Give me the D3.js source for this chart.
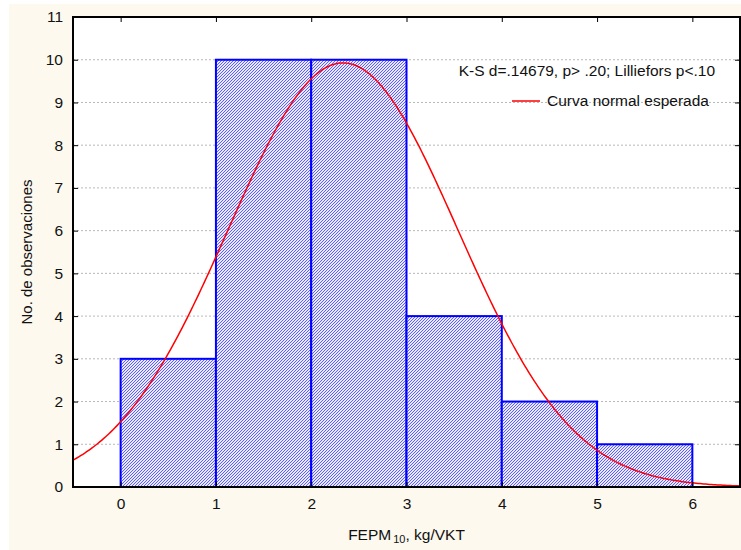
<!DOCTYPE html>
<html>
<head>
<meta charset="utf-8">
<script src="https://cdn.jsdelivr.net/npm/d3@7"></script>
<style>
  body { margin: 0; background: #fff; }
  text { font-family: "Liberation Sans", Arial, sans-serif; fill: #111; }
</style>
</head>
<body>
<svg id="chart" width="741" height="550"></svg>
<script>
// ---- data ----
const binStarts = [0, 1, 2, 3, 4, 5];
const binCounts = [3, 10, 10, 4, 2, 1];
const binWidth = 1;
const xTicks = [0, 1, 2, 3, 4, 5, 6];
const yTicks = [0, 1, 2, 3, 4, 5, 6, 7, 8, 9, 10, 11];
const ksText = 'K-S d=.14679, p> .20; Lilliefors p<.10';
const legendLabel = 'Curva normal esperada';

const W = 741, H = 550;
const plot = { left: 73, right: 740, top: 17, bottom: 487 };
const FONT = '"Liberation Sans", Arial, sans-serif';

const svg = d3.select('#chart');

// cream page background (leaves a thin white strip on the top/left)
svg.append('rect').attr('x', 9).attr('y', 4).attr('width', W - 9).attr('height', H - 4)
   .attr('fill', '#fdf9ee');
svg.append('rect').attr('x', plot.left).attr('y', plot.top)
   .attr('width', plot.right - plot.left).attr('height', plot.bottom - plot.top)
   .attr('fill', '#fff');

const x = d3.scaleLinear().domain([-0.5, 6.5]).range([plot.left, plot.right]);
const y = d3.scaleLinear().domain([0, 11]).range([plot.bottom, plot.top]);

// fine pixel hatch (///) for bars
const defs = svg.append('defs');
const pat = defs.append('pattern').attr('id', 'hatch')
    .attr('patternUnits', 'userSpaceOnUse').attr('width', 3).attr('height', 3)
    .attr('shape-rendering', 'crispEdges');
pat.append('rect').attr('width', 3).attr('height', 3).attr('fill', '#eaeaff');
[[0, 2], [1, 1], [2, 0]].forEach(([px, py]) => {
  pat.append('rect').attr('x', px).attr('y', py).attr('width', 1).attr('height', 1)
     .attr('fill', '#5c5cff');
});
defs.append('clipPath').attr('id', 'clip').append('rect')
   .attr('x', plot.left).attr('y', plot.top)
   .attr('width', plot.right - plot.left).attr('height', plot.bottom - plot.top);

// dotted horizontal grid
svg.append('g').selectAll('line')
   .data(yTicks.filter(t => t > 0 && t < 11))
   .join('line')
   .attr('x1', plot.left).attr('x2', plot.right)
   .attr('y1', d => y(d)).attr('y2', d => y(d))
   .attr('stroke', '#b8b8b8').attr('stroke-width', 1).attr('stroke-dasharray', '2,2');

// bars
svg.append('g').selectAll('rect')
   .data(binStarts.map((s, i) => ({ x0: s, x1: s + binWidth, n: binCounts[i] })))
   .join('rect')
   .attr('x', d => x(d.x0)).attr('y', d => y(d.n))
   .attr('width', d => x(d.x1) - x(d.x0)).attr('height', d => y(0) - y(d.n))
   .attr('fill', 'url(#hatch)').attr('stroke', '#0000ff').attr('stroke-width', 2);

// expected normal curve: mean and sample sd from the binned counts
const n = d3.sum(binCounts);
const mids = binStarts.map(s => s + binWidth / 2);
const mean = d3.sum(mids.map((m, i) => m * binCounts[i])) / n;
const ss = d3.sum(mids.map((m, i) => binCounts[i] * (m - mean) * (m - mean)));
const sd = Math.sqrt(ss / (n - 1));
const curveX = d3.range(-0.5, 6.5001, 0.02);
const expected = v => n * binWidth * Math.exp(-0.5 * ((v - mean) / sd) ** 2) / (sd * Math.sqrt(2 * Math.PI));

svg.append('path')
   .datum(curveX)
   .attr('clip-path', 'url(#clip)')
   .attr('d', d3.line().x(d => x(d)).y(d => y(expected(d))))
   .attr('fill', 'none').attr('stroke', '#ff0000').attr('stroke-width', 1.5);

// axes: labels outside, ticks inward on all four sides
const yAxis = svg.append('g').attr('transform', `translate(${plot.left},0)`)
   .call(d3.axisLeft(y).tickValues(yTicks).tickSize(-5).tickPadding(10).tickFormat(d3.format('d')));
const xAxis = svg.append('g').attr('transform', `translate(0,${plot.bottom})`)
   .call(d3.axisBottom(x).tickValues(xTicks).tickSize(-5).tickPadding(11).tickFormat(d3.format('d')));
svg.append('g').attr('transform', `translate(${plot.right},0)`)
   .call(d3.axisRight(y).tickValues(yTicks).tickSize(-5).tickFormat(''));
svg.append('g').attr('transform', `translate(0,${plot.top})`)
   .call(d3.axisTop(x).tickValues(xTicks).tickSize(-5).tickFormat(''));

svg.selectAll('.domain').remove();
svg.selectAll('.tick line').attr('stroke', '#000').attr('stroke-width', 1);
[yAxis, xAxis].forEach(a => a.selectAll('text')
   .attr('font-size', 15.5).attr('fill', '#111').attr('font-family', FONT));

// frame
svg.append('rect').attr('x', plot.left).attr('y', plot.top)
   .attr('width', plot.right - plot.left).attr('height', plot.bottom - plot.top)
   .attr('fill', 'none').attr('stroke', '#000').attr('stroke-width', 2);

// axis titles
const xt = svg.append('text').attr('x', (plot.left + plot.right) / 2).attr('y', 540)
   .attr('text-anchor', 'middle').attr('font-size', 15.5);
xt.append('tspan').text('FEPM');
xt.append('tspan').attr('font-size', 11).attr('dx', 2).attr('dy', 3).text('10');
xt.append('tspan').attr('dy', -3).text(', kg/VKT');

svg.append('text')
   .attr('transform', `translate(32,${(plot.top + plot.bottom) / 2}) rotate(-90)`)
   .attr('text-anchor', 'middle').attr('font-size', 15)
   .text('No. de observaciones');

// stats line and legend
svg.append('text').attr('x', 715).attr('y', 76).attr('text-anchor', 'end')
   .attr('font-size', 15.5).text(ksText);
svg.append('line').attr('x1', 512).attr('x2', 540).attr('y1', 101).attr('y2', 101)
   .attr('stroke', '#ff0000').attr('stroke-width', 1.5);
svg.append('text').attr('x', 547).attr('y', 106).attr('font-size', 15.5).text(legendLabel);
</script>
</body>
</html>
